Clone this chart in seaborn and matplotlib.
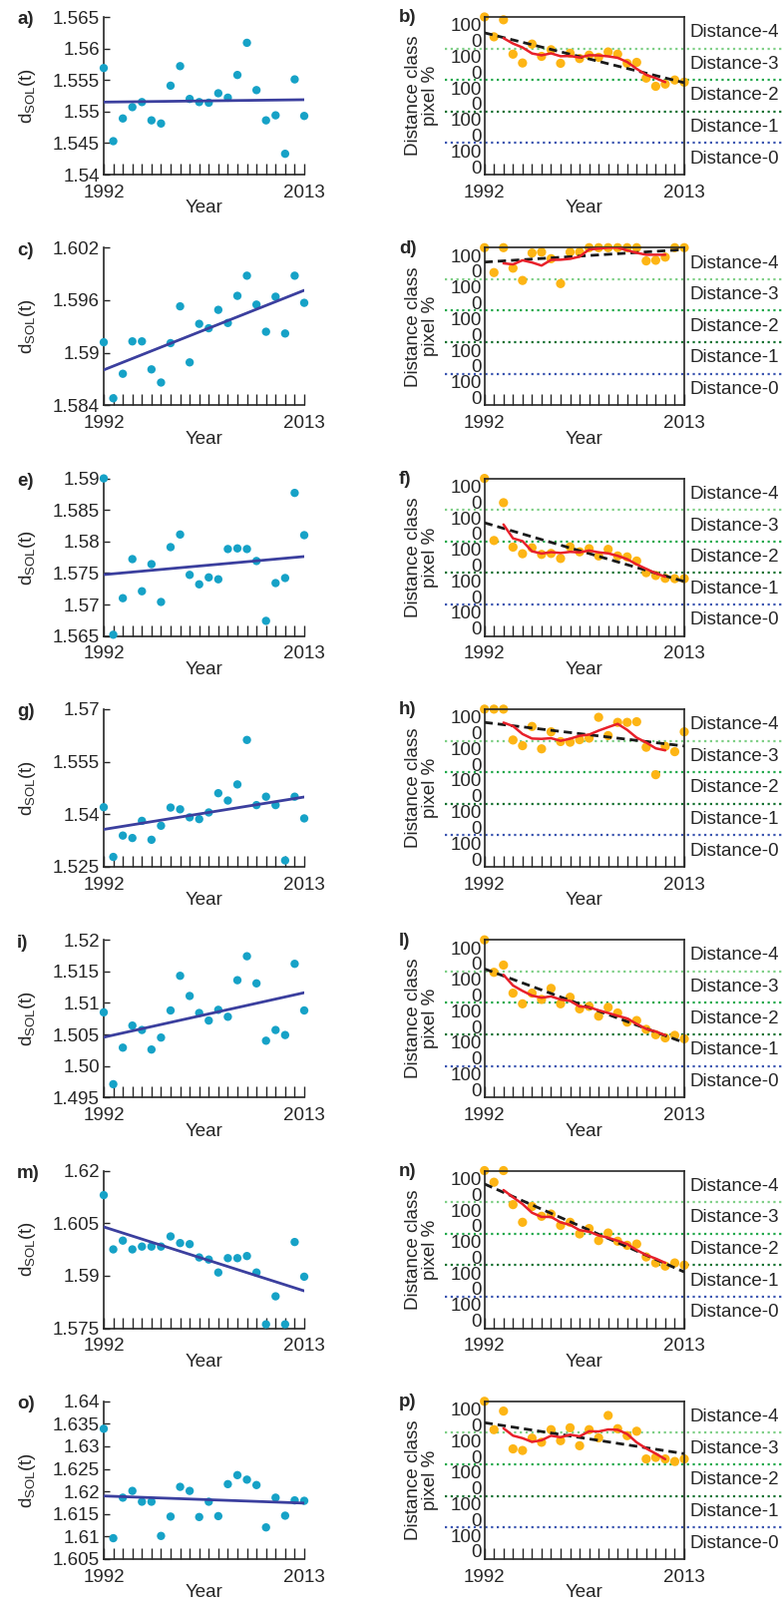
import numpy as np
import pandas as pd
import matplotlib
matplotlib.use('Agg')
import matplotlib.pyplot as plt
import seaborn as sns

years = list(range(1992, 2014))

# d_SOL(t) 값 (왼쪽 패널)
dsol_a = [1.5569, 1.5453, 1.5489, 1.5507, 1.5515, 1.5486, 1.5481, 1.5541, 1.5572, 1.5520, 1.5515,
          1.5514, 1.5529, 1.5522, 1.5558, 1.5609, 1.5534, 1.5486, 1.5494, 1.5433, 1.5551, 1.5493]
dsol_c = [1.5912, 1.5848, 1.5876, 1.5913, 1.5913, 1.5881, 1.5866, 1.5911, 1.5953, 1.5889, 1.5933,
          1.5928, 1.5949, 1.5934, 1.5965, 1.5988, 1.5955, 1.5924, 1.5964, 1.5922, 1.5988, 1.5957]
dsol_e = [1.5900, 1.5652, 1.5710, 1.5772, 1.5721, 1.5764, 1.5704, 1.5791, 1.5811, 1.5747, 1.5732,
          1.5743, 1.5740, 1.5788, 1.5789, 1.5788, 1.5769, 1.5674, 1.5734, 1.5742, 1.5877, 1.5810]
dsol_g = [1.5420, 1.5278, 1.5339, 1.5332, 1.5381, 1.5327, 1.5367, 1.5419, 1.5414, 1.5391, 1.5386,
          1.5405, 1.5460, 1.5439, 1.5485, 1.5612, 1.5426, 1.5450, 1.5426, 1.5268, 1.5450, 1.5388]
dsol_i = [1.5085, 1.4971, 1.5029, 1.5064, 1.5057, 1.5026, 1.5045, 1.5088, 1.5143, 1.5111, 1.5084,
          1.5072, 1.5089, 1.5078, 1.5136, 1.5174, 1.5131, 1.5040, 1.5057, 1.5049, 1.5162, 1.5088]
dsol_m = [1.6130, 1.5975, 1.6000, 1.5975, 1.5983, 1.5983, 1.5983, 1.6012, 1.5993, 1.5990, 1.5952,
          1.5946, 1.5909, 1.5950, 1.5950, 1.5956, 1.5909, 1.5761, 1.5841, 1.5761, 1.5996, 1.5897]
dsol_o = [1.6339, 1.6096, 1.6186, 1.6201, 1.6177, 1.6177, 1.6101, 1.6144, 1.6210, 1.6201, 1.6143,
          1.6177, 1.6145, 1.6216, 1.6236, 1.6226, 1.6214, 1.6120, 1.6186, 1.6146, 1.6180, 1.6179]

# 왼쪽 패널 y 눈금 라벨
yt_a = ['1.54', '1.545', '1.55', '1.555', '1.56', '1.565']
yt_c = ['1.584', '1.59', '1.596', '1.602']
yt_e = ['1.565', '1.57', '1.575', '1.58', '1.585', '1.59']
yt_g = ['1.525', '1.54', '1.555', '1.57']
yt_i = ['1.495', '1.50', '1.505', '1.51', '1.515', '1.52']
yt_m = ['1.575', '1.59', '1.605', '1.62']
yt_o = ['1.605', '1.61', '1.615', '1.62', '1.625', '1.63', '1.635', '1.64']

# distance class pixel % (오른쪽 패널, 0-500 스케일)
pix_b = [500, 437, 491, 382, 354, 414, 375, 396, 353, 385, 368, 379, 372, 389, 382, 353, 356, 306, 280, 287, 300, 293]
pix_d = [500, 421, 500, 435, 396, 483, 486, 465, 386, 486, 486, 500, 500, 500, 500, 500, 500, 458, 460, 470, 500, 500]
pix_f = [500, 303, 423, 282, 261, 280, 259, 262, 246, 283, 267, 277, 254, 275, 254, 251, 238, 201, 192, 183, 182, 182]
pix_h = [500, 500, 500, 402, 384, 445, 374, 428, 397, 395, 403, 408, 474, 416, 458, 458, 460, 379, 292, 382, 365, 428]
pix_l = [500, 397, 420, 331, 297, 331, 311, 346, 297, 318, 281, 289, 258, 286, 268, 239, 244, 216, 199, 189, 197, 186]
pix_n = [500, 463, 500, 392, 336, 386, 355, 362, 326, 336, 299, 316, 278, 302, 276, 263, 267, 226, 207, 197, 207, 200]
pix_p = [500, 410, 469, 349, 344, 383, 370, 410, 375, 416, 359, 410, 384, 455, 413, 391, 405, 317, 322, 317, 309, 317]

left_letters = ['a)', 'c)', 'e)', 'g)', 'i)', 'm)', 'o)']
right_letters = ['b)', 'd)', 'f)', 'h)', 'l)', 'n)', 'p)']
class_names = ['Distance-0', 'Distance-1', 'Distance-2', 'Distance-3', 'Distance-4']
class_tick_labels = ['0', '100']

left_data = [dsol_a, dsol_c, dsol_e, dsol_g, dsol_i, dsol_m, dsol_o]
left_ticks = [yt_a, yt_c, yt_e, yt_g, yt_i, yt_m, yt_o]
right_data = [pix_b, pix_d, pix_f, pix_h, pix_l, pix_n, pix_p]

sns.set_style('ticks')
plt.rcParams['font.family'] = ['Liberation Sans', 'DejaVu Sans']
plt.rcParams['mathtext.default'] = 'regular'
FS = 13.5

W, H = 786, 1604
fig = plt.figure(figsize=(W / 100, H / 100), dpi=100)

c_dot = '#16A2C7'
c_fit = '#3B3F9E'
c_orange = '#FDB515'
c_red = '#E8202A'
line_cols = ['#3A55B0', '#12702F', '#1FA84A', '#7DCF85']   # 100, 200, 300, 400 경계

for k in range(7):
    top = 17 + 231.3 * k
    ah = 158
    y0 = 1 - (top + ah) / H

    # ---------- 왼쪽: d_SOL(t)
    ax = fig.add_axes([104 / W, y0, 201 / W, ah / H])
    vals = left_data[k]
    sns.scatterplot(x=years, y=vals, ax=ax, color=c_dot, s=36, edgecolor='none',
                    clip_on=False, zorder=3)
    sns.regplot(x=years, y=vals, ax=ax, scatter=False, ci=None, truncate=True,
                line_kws={'color': c_fit, 'lw': 2.0, 'zorder': 4})
    tl = left_ticks[k]
    ax.set_ylim(float(tl[0]), float(tl[-1]))
    ax.set_yticks([float(t) for t in tl])
    ax.set_yticklabels(tl, fontsize=FS)
    ax.set_xlim(1992, 2013)
    ax.set_xticks(years)
    ax.set_xticklabels(['1992'] + [''] * 20 + ['2013'], fontsize=FS)
    ax.tick_params(axis='x', direction='in', length=8, width=1, pad=7)
    ax.tick_params(axis='y', direction='in', length=4, width=1, pad=3)
    for s in ['top', 'right']:
        ax.spines[s].set_visible(False)
    for s in ['left', 'bottom']:
        ax.spines[s].set_linewidth(1.2)
    ax.set_xlabel('Year', fontsize=FS, labelpad=-1)
    ax.set_ylabel('d$_{SOL}$(t)', fontsize=FS)
    ax.yaxis.set_label_coords(-0.33, 0.5)
    fig.text(17 / W, 1 - (top + 3) / H, left_letters[k], fontsize=FS, fontweight='bold',
             va='center', ha='left')

    # ---------- 오른쪽: distance class pixel %
    bx = fig.add_axes([485.7 / W, y0, 200.3 / W, ah / H])
    pv = right_data[k]
    sns.scatterplot(x=years, y=pv, ax=bx, color=c_orange, s=44, edgecolor='none',
                    clip_on=False, zorder=2)
    sns.regplot(x=years, y=pv, ax=bx, scatter=False, ci=None, truncate=True,
                line_kws={'color': '#1a1a1a', 'lw': 2.0, 'ls': (0, (3, 1.8)), 'zorder': 4})
    roll = pd.Series(pv, index=years).rolling(5, center=True).mean().dropna()
    sns.lineplot(x=roll.index, y=roll.values, ax=bx, color=c_red, lw=1.8, zorder=5)
    for j, c in enumerate(line_cols):
        bx.axhline((j + 1) * 100, xmin=-0.2, xmax=1.5, color=c, lw=1.6, ls=(0, (1, 1.6)),
                   clip_on=False, zorder=1)
    for j, name in enumerate(class_names):
        bx.text(1.025, (j * 100 + 50) / 500, name, transform=bx.transAxes, fontsize=FS,
                ha='left', va='center')
    bx.set_ylim(0, 500)
    bx.set_xlim(1992, 2013)
    ypos, ylab = [], []
    for j in range(5):
        ypos += [j * 100 + 25, j * 100 + 75]
        ylab += class_tick_labels
    bx.set_yticks(ypos)
    bx.set_yticklabels(ylab, fontsize=FS)
    bx.tick_params(axis='y', length=0, pad=2)
    bx.set_xticks(years)
    bx.set_xticklabels(['1992'] + [''] * 20 + ['2013'], fontsize=FS)
    bx.tick_params(axis='x', direction='in', length=8, width=1, pad=7)
    for s in bx.spines.values():
        s.set_linewidth(1.2)
    bx.set_xlabel('Year', fontsize=FS, labelpad=-1)
    bx.set_ylabel('Distance class\npixel %', fontsize=FS, linespacing=1.0)
    bx.yaxis.set_label_coords(-0.228, 0.5)
    fig.text(400 / W, 1 - (top + 1) / H, right_letters[k], fontsize=FS, fontweight='bold',
             va='center', ha='left')

fig.savefig('out.png', dpi=100)
